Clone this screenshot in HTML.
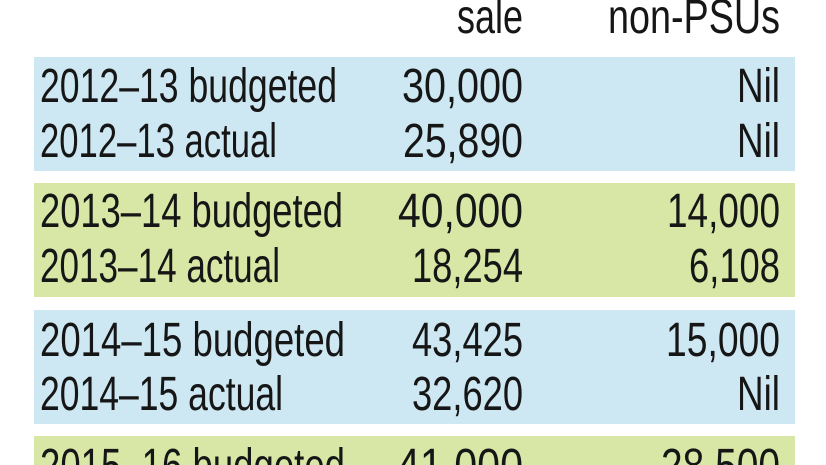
<!DOCTYPE html>
<html>
<head>
<meta charset="utf-8">
<style>
  html, body { margin: 0; padding: 0; background: #ffffff; }
  body { width: 826px; height: 465px; overflow: hidden; }
  svg { display: block; overflow: hidden; }
  text { font-family: "Liberation Sans", "DejaVu Sans", sans-serif; font-size: 48px; fill: #161616; }
</style>
</head>
<body>
<svg width="826" height="465" viewBox="0 0 826 465" xmlns="http://www.w3.org/2000/svg">
  <defs>
    <clipPath id="frame"><rect x="0" y="0" width="826" height="465"/></clipPath>
  </defs>
  <g clip-path="url(#frame)">
  <rect x="0" y="0" width="826" height="465" fill="#ffffff"/>
  <!-- bands -->
  <rect x="34" y="57" width="761" height="114" fill="#cde8f2"/>
  <rect x="34" y="183" width="761" height="114" fill="#d8e7a6"/>
  <rect x="34" y="310" width="761" height="114" fill="#cde8f2"/>
  <rect x="34" y="436" width="761" height="29" fill="#d8e7a6"/>

  <!-- header -->
  <text x="523" y="33" text-anchor="end" textLength="66" lengthAdjust="spacingAndGlyphs">sale</text>
  <text x="780" y="33" text-anchor="end" textLength="172" lengthAdjust="spacingAndGlyphs">non-PSUs</text>

  <!-- band 1 -->
  <text x="40" y="102" textLength="297" lengthAdjust="spacingAndGlyphs">2012–13 budgeted</text>
  <text x="523" y="102" text-anchor="end" textLength="121" lengthAdjust="spacingAndGlyphs">30,000</text>
  <text x="780" y="102" text-anchor="end" textLength="43" lengthAdjust="spacingAndGlyphs">Nil</text>
  <text x="40" y="157" textLength="237" lengthAdjust="spacingAndGlyphs">2012–13 actual</text>
  <text x="523" y="157" text-anchor="end" textLength="120" lengthAdjust="spacingAndGlyphs">25,890</text>
  <text x="780" y="157" text-anchor="end" textLength="43" lengthAdjust="spacingAndGlyphs">Nil</text>

  <!-- band 2 -->
  <text x="40" y="227" textLength="303" lengthAdjust="spacingAndGlyphs">2013–14 budgeted</text>
  <text x="523" y="227" text-anchor="end" textLength="125" lengthAdjust="spacingAndGlyphs">40,000</text>
  <text x="780" y="227" text-anchor="end" textLength="113" lengthAdjust="spacingAndGlyphs">14,000</text>
  <text x="40" y="282" textLength="240" lengthAdjust="spacingAndGlyphs">2013–14 actual</text>
  <text x="523" y="282" text-anchor="end" textLength="111" lengthAdjust="spacingAndGlyphs">18,254</text>
  <text x="780" y="282" text-anchor="end" textLength="91" lengthAdjust="spacingAndGlyphs">6,108</text>

  <!-- band 3 -->
  <text x="40" y="356" textLength="305" lengthAdjust="spacingAndGlyphs">2014–15 budgeted</text>
  <text x="523" y="356" text-anchor="end" textLength="111" lengthAdjust="spacingAndGlyphs">43,425</text>
  <text x="780" y="356" text-anchor="end" textLength="114" lengthAdjust="spacingAndGlyphs">15,000</text>
  <text x="40" y="410" textLength="243" lengthAdjust="spacingAndGlyphs">2014–15 actual</text>
  <text x="523" y="410" text-anchor="end" textLength="111" lengthAdjust="spacingAndGlyphs">32,620</text>
  <text x="780" y="410" text-anchor="end" textLength="43" lengthAdjust="spacingAndGlyphs">Nil</text>

  <!-- band 4 (cut off) -->
  <text x="40" y="482" textLength="305" lengthAdjust="spacingAndGlyphs">2015–16 budgeted</text>
  <text x="523" y="482" text-anchor="end" textLength="126" lengthAdjust="spacingAndGlyphs">41,000</text>
  <text x="780" y="482" text-anchor="end" textLength="119" lengthAdjust="spacingAndGlyphs">28,500</text>
  </g>
</svg>
</body>
</html>
